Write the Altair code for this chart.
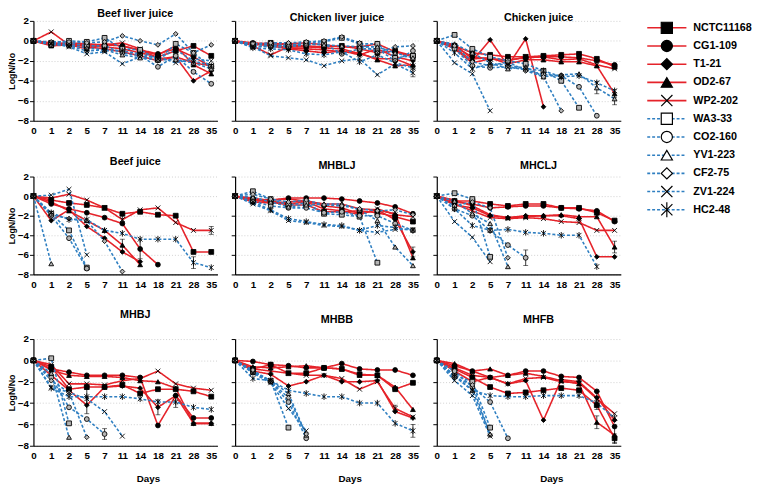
import altair as alt
import pandas as pd

days = [0, 1, 2, 5, 7, 11, 14, 18, 21, 28, 35]
strains = ["NCTC11168", "CG1-109", "T1-21", "OD2-67", "WP2-202",
           "WA3-33", "CO2-160", "YV1-223", "CF2-75", "ZV1-224", "HC2-48"]
panel_names = ["Beef liver juice", "Chicken liver juice", "Chicken juice",
               "Beef juice", "MHBLJ", "MHCLJ", "MHBJ", "MHBB", "MHFB"]

beef_liver_juice = {
    "NCTC11168": [0, -0.4, -0.3, -0.5, -0.6, -0.8, -1.2, -1.6, -1.0, -0.5, -1.5],
    "CG1-109": [0, -0.3, -0.2, -0.3, -0.4, -0.5, -0.9, -1.3, -0.8, -1.6, -2.6],
    "T1-21": [0, -0.2, -0.3, -0.6, -0.8, -1.1, -1.5, -2.0, -1.6, -4.0, -3.0],
    "OD2-67": [0, -0.5, -0.4, -0.8, -0.3, -0.5, -1.0, -1.4, -0.5, -2.4, -3.3],
    "WP2-202": [0, 0.9, -0.4, -0.4, -0.4, -0.2, -0.8, -1.8, -1.6, -2.2, -2.5],
    "WA3-33": [0, -0.2, 0.0, -0.1, 0.3, -0.8, -0.9, -1.9, -0.3, -1.2, -2.6],
    "CO2-160": [0, -0.3, -0.2, -0.5, -0.5, -1.2, -1.5, -2.6, -1.5, -3.1, -4.3],
    "YV1-223": [0, -0.4, -0.4, -0.7, -0.9, -1.4, -1.7, -1.9, -1.9, -2.2, -2.8],
    "CF2-75": [0, -0.1, -0.1, -0.2, -0.1, 0.5, 0.0, -0.4, 0.7, -1.2, -0.4],
    "ZV1-224": [0, -0.2, -0.6, -1.3, -1.1, -2.3, -1.6, -1.6, -2.2, -1.8, -2.0],
    "HC2-48": [0, -0.3, -0.5, -1.0, -0.9, -1.0, -1.3, -1.8, -0.9, -2.0, -2.5],
}
chicken_liver_juice = {
    "NCTC11168": [0, -0.4, -0.2, -0.4, -0.5, -0.6, -0.5, -0.8, -1.2, -1.0, -1.5],
    "CG1-109": [0, -0.2, -0.3, -0.3, -0.2, -0.4, -0.6, -0.6, -0.3, -1.1, -1.6],
    "T1-21": [0, -0.3, -0.5, -0.8, -1.0, -1.2, -1.0, -1.4, -0.8, -1.6, -2.0],
    "OD2-67": [0, -0.4, -0.3, -0.7, -0.8, -0.9, -1.1, -1.2, -1.9, -2.5, -2.4],
    "WP2-202": [0, -0.5, -1.4, -0.6, -0.6, -0.7, -0.8, -1.3, -1.8, -1.8, -2.5],
    "WA3-33": [0, -0.3, -0.4, -0.5, -0.2, -0.1, 0.3, -0.3, -0.3, -1.7, -1.5],
    "CO2-160": [0, -0.5, -0.6, -0.6, -0.4, -0.3, -1.3, -0.8, -0.8, -2.0, -1.0],
    "YV1-223": [0, -0.6, -0.5, -0.4, -0.3, -0.4, -0.5, -0.6, -0.6, -1.2, -1.7],
    "CF2-75": [0, -0.3, -0.2, -0.2, -0.1, 0.0, 0.4, -0.2, -1.2, -0.6, -0.5],
    "ZV1-224": [0, -0.6, -1.5, -1.7, -1.9, -2.5, -2.0, -1.8, -3.4, -2.3, -3.2],
    "HC2-48": [0, -0.7, -0.8, -0.9, -1.3, -1.4, -1.1, -2.1, -1.4, -2.2, -2.7],
}
chicken_juice = {
    "NCTC11168": [0, -0.5, -1.2, -1.4, -1.6, -1.6, -1.5, -1.4, -1.3, -1.8, -2.6],
    "CG1-109": [0, -0.6, -1.6, -1.8, -1.9, -1.7, -1.6, -1.6, -1.7, -2.0, -2.4],
    "T1-21": [0, -0.7, -2.0, 0.1, -2.5, 0.2, -6.6],
    "OD2-67": [0, -0.4, -1.8, -1.7, -2.3, -1.9, -1.9, -2.1, -2.1, -2.5, -5.3],
    "WP2-202": [0, -0.8, -2.2, -1.8, -2.0, -1.6, -1.6, -1.9, -1.8, -2.4, -2.8],
    "WA3-33": [0, 0.6, -0.8, -1.6, -2.0, -2.3, -3.0, -4.0, -6.7],
    "CO2-160": [0, -0.8, -2.5, -2.7, -2.6, -2.9, -3.4, -3.5, -4.6, -7.5],
    "YV1-223": [0, -0.3, -1.2, -2.2, -2.8, -2.6, -3.6, -3.4, -3.3, -4.7, -5.8],
    "CF2-75": [0, -0.5, -2.1, -2.5, -2.1, -3.0, -3.6, -7.0],
    "ZV1-224": [0, -2.2, -3.3, -7.0],
    "HC2-48": [0, -1.2, -2.8, -2.3, -2.4, -2.8, -3.0, -3.6, -3.5, -4.2, -5.0],
}
beef_juice = {
    "NCTC11168": [0, -0.4, -0.7, -0.9, -1.2, -1.8, -1.6, -1.9, -2.0, -5.7, -5.7],
    "CG1-109": [0, -0.8, -1.3, -1.7, -2.2, -2.8, -5.4, -7.0],
    "T1-21": [0, -2.5, -1.4, -3.1, -4.3, -5.7, -6.7],
    "OD2-67": [0, -0.6, -1.5, -2.5, -3.5, -5.0, -7.0],
    "WP2-202": [0, -0.2, 0.2, -0.4, -1.2, -2.4, -1.4, -1.2, -2.7, -3.5, -3.5],
    "WA3-33": [0, -1.8, -3.5, -7.3],
    "CO2-160": [0, -2.0, -4.3, -7.4],
    "YV1-223": [0, -6.9],
    "CF2-75": [0, -1.9, -2.3, -2.5, -4.6, -7.7],
    "ZV1-224": [0, 0.1, 0.7, -6.0],
    "HC2-48": [0, -1.7, -2.4, -2.4, -3.5, -3.8, -4.4, -4.4, -4.4, -6.8, -7.3],
}
mhblj = {
    "NCTC11168": [0, -0.4, -0.6, -0.9, -0.9, -1.6, -1.6, -1.5, -1.7, -2.1, -2.6],
    "CG1-109": [0, -0.3, -0.4, -0.2, -0.2, -0.2, -0.3, -0.5, -0.7, -1.1, -1.8],
    "T1-21": [0, -0.5, -0.4, -0.3, -0.5, -1.0, -1.2, -1.8, -1.4, -2.4, -5.7],
    "OD2-67": [0, -0.6, -0.7, -0.6, -0.5, -0.8, -0.8, -1.3, -1.4, -1.8, -6.3],
    "WP2-202": [0, -0.2, -0.5, -0.8, -0.6, -1.3, -1.5, -1.9, -1.3, -1.9, -2.1],
    "WA3-33": [0, 0.5, -0.3, -0.9, -0.7, -1.8, -1.9, -2.1, -6.8],
    "CO2-160": [0, -0.5, -1.0, -1.2, -1.2, -1.7, -1.6, -2.0, -2.0, -2.8, -3.5],
    "YV1-223": [0, -0.1, -0.6, -1.1, -0.9, -0.8, -0.8, -1.4, -2.5, -5.2, -7.1],
    "CF2-75": [0, 0.2, -0.3, -0.6, -0.4, -0.9, -1.0, -1.3, -1.5, -1.4, -1.9],
    "ZV1-224": [0, -0.8, -1.5, -2.5, -2.7, -3.0, -3.1, -3.5, -3.7, -3.4, -3.4],
    "HC2-48": [0, -0.6, -1.4, -2.3, -2.6, -2.9, -3.0, -3.5, -3.0, -3.2, -3.5],
}
mhclj = {
    "NCTC11168": [0, -0.5, -0.5, -0.8, -1.0, -0.8, -0.8, -1.2, -1.2, -1.7, -2.5],
    "CG1-109": [0, -0.6, -0.8, -1.2, -1.1, -1.0, -1.0, -1.2, -1.3, -1.5, -2.6],
    "T1-21": [0, -0.9, -1.2, -2.0, -2.2, -2.0, -2.0, -2.0, -2.3, -6.2, -6.2],
    "OD2-67": [0, -0.4, -1.0, -1.9, -2.2, -2.1, -2.0, -1.9, -2.1, -2.1, -5.2],
    "WP2-202": [0, -0.8, -1.5, -2.2, -2.3, -2.2, -2.3, -2.6, -2.7, -3.5, -3.5],
    "WA3-33": [0, 0.3, -0.3, -6.2],
    "CO2-160": [0, -1.3, -2.0, -3.5, -5.0, -6.3],
    "YV1-223": [0, -0.5, -1.8, -2.8, -7.2],
    "CF2-75": [0, -1.0, -0.6, -1.2, -6.3],
    "ZV1-224": [0, -2.6, -4.2, -6.7],
    "HC2-48": [0, -1.3, -3.0, -3.5, -3.4, -3.7, -3.8, -4.0, -4.0, -7.2],
}
mhbj = {
    "NCTC11168": [0, -0.6, -2.7, -2.5, -2.5, -2.3, -3.1, -2.7, -2.7, -2.9, -3.4],
    "CG1-109": [0, -0.8, -1.1, -1.4, -1.4, -1.4, -1.6, -6.1, -3.3, -5.4, -5.4],
    "T1-21": [0, -1.4, -2.8, -4.2, -2.5, -2.4, -2.6, -4.4, -3.3, -5.9, -5.9],
    "OD2-67": [0, -0.9, -1.4, -1.5, -1.5, -1.6, -1.9, -2.0, -2.6, -5.9, -5.9],
    "WP2-202": [0, -0.4, -2.2, -2.2, -2.3, -1.9, -1.7, -1.0, -2.2, -2.6, -2.8],
    "WA3-33": [0, 0.2, -5.9],
    "CO2-160": [0, -1.6, -4.4, -5.5, -6.9],
    "YV1-223": [0, -1.2, -7.2],
    "CF2-75": [0, -1.9, -3.0, -7.2],
    "ZV1-224": [0, -2.5, -3.0, -3.6, -4.8, -7.1],
    "HC2-48": [0, -2.6, -3.4, -3.4, -3.4, -3.4, -3.6, -3.9, -3.9, -4.4, -4.6],
}
mhbb = {
    "NCTC11168": [0, -0.8, -0.4, -1.2, -1.2, -0.7, -0.8, -1.3, -1.4, -2.7, -2.1],
    "CG1-109": [0, -0.1, -0.4, -0.5, -0.7, -0.7, -0.3, -0.8, -0.9, -0.9, -1.4],
    "T1-21": [0, -1.0, -1.3, -2.4, -2.0, -1.4, -2.0, -2.0, -1.9, -4.8, -5.4],
    "OD2-67": [0, -0.6, -0.7, -0.6, -0.5, -0.7, -0.8, -1.4, -1.4, -2.5, -4.6],
    "WP2-202": [0, -0.8, -1.0, -1.2, -1.4, -1.4, -1.7, -2.7, -2.0, -4.5, -5.3],
    "WA3-33": [0, -1.1, -1.9, -6.3],
    "CO2-160": [0, -1.1, -2.0, -3.9, -7.3],
    "YV1-223": [0, -1.0, -1.9, -3.1, -7.0],
    "CF2-75": [0, -0.9, -2.0, -3.5, -6.9],
    "ZV1-224": [0, -1.2, -2.1, -4.5, -6.6],
    "HC2-48": [0, -1.7, -1.9, -2.8, -3.1, -3.4, -3.4, -4.0, -4.0, -5.9, -6.6],
}
mhfb = {
    "NCTC11168": [0, -0.8, -1.6, -2.5, -3.1, -3.0, -2.8, -2.6, -2.8, -4.2, -7.3],
    "CG1-109": [0, -0.5, -1.0, -1.6, -1.4, -1.0, -1.0, -1.5, -1.6, -2.9, -6.2],
    "T1-21": [0, -1.0, -2.0, -1.6, -2.2, -1.9, -5.6, -1.8, -2.0, -3.5, -5.6],
    "OD2-67": [0, -0.3, -1.0, -0.8, -1.4, -1.2, -1.5, -1.9, -2.2, -5.8, -7.0],
    "WP2-202": [0, -0.7, -1.4, -1.6, -2.2, -1.7, -1.6, -2.0, -2.1, -3.6, -5.0],
    "WA3-33": [0, -1.4, -2.0, -6.3],
    "CO2-160": [0, -1.0, -2.5, -3.9, -7.3],
    "YV1-223": [0, -1.4, -2.8, -6.9],
    "CF2-75": [0, -1.6, -2.3, -7.0],
    "ZV1-224": [0, -1.9, -3.3, -7.1],
    "HC2-48": [0, -1.5, -2.8, -3.3, -3.4, -3.4, -3.3, -3.3, -3.3, -4.0, -5.4],
}
panel_series = [beef_liver_juice, chicken_liver_juice, chicken_juice,
                beef_juice, mhblj, mhclj, mhbj, mhbb, mhfb]

# error bars: panel, strain, day, half-width (log units)
err_panel = ["Beef juice", "Beef juice", "Beef juice", "Beef juice", "Beef juice",
             "Chicken liver juice", "Chicken juice", "Chicken juice", "Chicken juice",
             "MHBLJ", "MHCLJ", "MHCLJ", "MHBJ", "MHBJ", "MHBJ", "MHBJ", "MHBJ",
             "MHBB", "MHBB", "MHFB", "MHFB", "MHFB", "MHFB", "MHFB"]
err_strain = ["CG1-109", "OD2-67", "HC2-48", "WP2-202", "WP2-202",
              "ZV1-224", "YV1-223", "YV1-223", "OD2-67",
              "T1-21", "CO2-160", "OD2-67", "T1-21", "CO2-160", "T1-21", "HC2-48", "HC2-48",
              "HC2-48", "WP2-202", "NCTC11168", "OD2-67", "T1-21", "HC2-48", "OD2-67"]
err_day = [14, 11, 28, 35, 11,
           35, 35, 28, 35,
           35, 11, 35, 5, 7, 18, 21, 5,
           35, 28, 35, 28, 28, 28, 35]
err_half = [1.0, 0.6, 0.6, 0.4, 0.5,
            0.4, 0.6, 0.6, 0.4,
            0.5, 0.8, 0.6, 0.8, 0.5, 0.7, 0.5, 0.7,
            0.6, 0.3, 0.4, 0.6, 0.6, 0.6, 0.8]

RED = "#e5232a"
BLUE = "#2f7fc1"
X_PATH = "M-1,-1L1,1M-1,1L1,-1"
AST_PATH = "M-1,-1L1,1M-1,1L1,-1M0,-1.35L0,1.35"
shapes = ["square", "circle", "diamond", "triangle-up", X_PATH,
          "square", "circle", "triangle-up", "diamond", X_PATH, AST_PATH]
line_colors = [RED] * 5 + [BLUE] * 6
dashes = [[1, 0]] * 5 + [[3, 2]] * 6
widths = [1.6] * 5 + [1.1] * 6
panel_fills = ["black"] * 5 + ["#b5b5b5"] * 6
legend_fills = ["black"] * 5 + ["white"] * 6
FONT = "Liberation Sans"

rows = []
for pname, series in zip(panel_names, panel_series):
    for s in strains:
        for i, v in enumerate(series[s]):
            rows.append({"panel": pname, "strain": s, "idx": i, "value": v})
df = pd.DataFrame(rows)

erows = []
for p, s, d, h in zip(err_panel, err_strain, err_day, err_half):
    i = days.index(d)
    v = panel_series[panel_names.index(p)][s][i]
    erows.append({"panel": p, "strain": s, "idx": i, "lo": v - h, "hi": v + h})
edf = pd.DataFrame(erows, columns=["panel", "strain", "idx", "lo", "hi"])

label_expr = "[" + ",".join("'%d'" % d for d in days) + "][datum.value]"

color_scale = alt.Scale(domain=strains, range=line_colors)
dash_scale = alt.Scale(domain=strains, range=dashes)
width_scale = alt.Scale(domain=strains, range=widths)
shape_scale = alt.Scale(domain=strains, range=shapes)

W = 188
heights = [102, 100, 109]
title_offsets = [-3, 5, 14]


def make_panel(k):
    pname = panel_names[k]
    r, c = divmod(k, 3)
    d = df[df.panel == pname]
    e = edf[edf.panel == pname]
    xaxis = dict(values=list(range(11)), labelExpr=label_expr, ticks=False,
                 grid=False, labelPadding=5, labelFlush=False, labelOverlap=False)
    if r == 2:
        xaxis.update(titleX=117, titleAlign="center", titlePadding=14)
    xa = alt.Axis(**xaxis)
    xs = alt.Scale(domain=[0, 10.35], nice=False, zero=False)
    xt = "Days" if r == 2 else None
    ya = alt.Axis(values=[-8, -6, -4, -2, 0, 2], labels=(c == 0), tickSize=4,
                  grid=True, titlePadding=1, labelOverlap=False, labelPadding=1,
                  titleFontSize=9)
    ys = alt.Scale(domain=[-8, 2], nice=False, zero=False)
    yt = "LogN/No" if c == 0 else None

    def X():
        return alt.X("idx:Q", scale=xs, axis=xa, title=xt)

    def Y(f):
        return alt.Y(f, scale=ys, axis=ya, title=yt)

    lines = alt.Chart(d).mark_line().encode(
        x=X(), y=Y("value:Q"),
        color=alt.Color("strain:N", scale=color_scale, legend=None),
        strokeDash=alt.StrokeDash("strain:N", scale=dash_scale, legend=None),
        strokeWidth=alt.StrokeWidth("strain:N", scale=width_scale, legend=None),
        order=alt.Order("idx:Q"),
    )
    ebase = alt.Chart(e)
    erule = ebase.mark_rule(color="black", strokeWidth=0.8).encode(
        x=X(), y=Y("lo:Q"), y2="hi:Q")
    ecap1 = ebase.mark_tick(color="black", orient="horizontal", size=5, thickness=0.8).encode(
        x=X(), y=Y("lo:Q"))
    ecap2 = ebase.mark_tick(color="black", orient="horizontal", size=5, thickness=0.8).encode(
        x=X(), y=Y("hi:Q"))
    pts = alt.Chart(d).mark_point(size=24, opacity=1, strokeWidth=0.9, stroke="black").encode(
        x=X(), y=Y("value:Q"),
        shape=alt.Shape("strain:N", scale=shape_scale, legend=None),
        fill=alt.Fill("strain:N", scale=alt.Scale(domain=strains, range=panel_fills), legend=None),
    )
    return alt.layer(lines, erule, ecap1, ecap2, pts).properties(
        width=W, height=heights[r],
        title=alt.TitleParams(pname, dx=10, offset=title_offsets[r]),
    )


grid_rows = [alt.hconcat(*[make_panel(r * 3 + c) for c in range(3)], spacing=13)
             for r in range(3)]
grid = alt.vconcat(*grid_rows, spacing=21)

ldf = pd.DataFrame({"name": strains})
ly = alt.Y("name:N", sort=strains, scale=alt.Scale(type="point", padding=0.38), axis=None)
lrule = alt.Chart(ldf).mark_rule().encode(
    x=alt.value(0), x2=alt.value(40), y=ly,
    color=alt.Color("name:N", scale=alt.Scale(domain=strains, range=line_colors), legend=None),
    strokeDash=alt.StrokeDash("name:N", scale=alt.Scale(domain=strains, range=dashes), legend=None),
    strokeWidth=alt.StrokeWidth("name:N", scale=alt.Scale(domain=strains, range=widths), legend=None),
)
lpts = alt.Chart(ldf).mark_point(size=130, opacity=1, strokeWidth=1.2, stroke="black").encode(
    x=alt.value(20), y=ly,
    shape=alt.Shape("name:N", scale=alt.Scale(domain=strains, range=shapes), legend=None),
    fill=alt.Fill("name:N", scale=alt.Scale(domain=strains, range=legend_fills), legend=None),
)
ltxt = alt.Chart(ldf).mark_text(align="left", baseline="middle", font=FONT,
                                fontWeight="bold", fontSize=11, color="black").encode(
    x=alt.value(47), y=ly, text="name:N")
legend = alt.layer(lrule, lpts, ltxt).properties(width=100, height=200)

chart = alt.hconcat(grid, legend, spacing=26).properties(
    padding={"top": -5, "left": -1, "right": 0, "bottom": 0}
).resolve_scale(
    fill="independent", shape="independent", color="independent",
    strokeDash="independent", strokeWidth="independent"
).configure_view(
    stroke=None
).configure_axis(
    labelFont=FONT, labelFontWeight="bold", labelFontSize=10, labelColor="black",
    titleFont=FONT, titleFontWeight="bold", titleFontSize=10, titleColor="black",
    domainColor="black", domainWidth=1.2, tickColor="black",
    gridColor="#c4c4c4", gridDash=[1, 2], gridWidth=0.8,
).configure_title(
    font=FONT, fontSize=11, fontWeight="bold", color="black", anchor="middle"
).configure_scale(
    pointPadding=0
)

chart.save("out.html", embed_options={"renderer": "svg", "actions": False})
